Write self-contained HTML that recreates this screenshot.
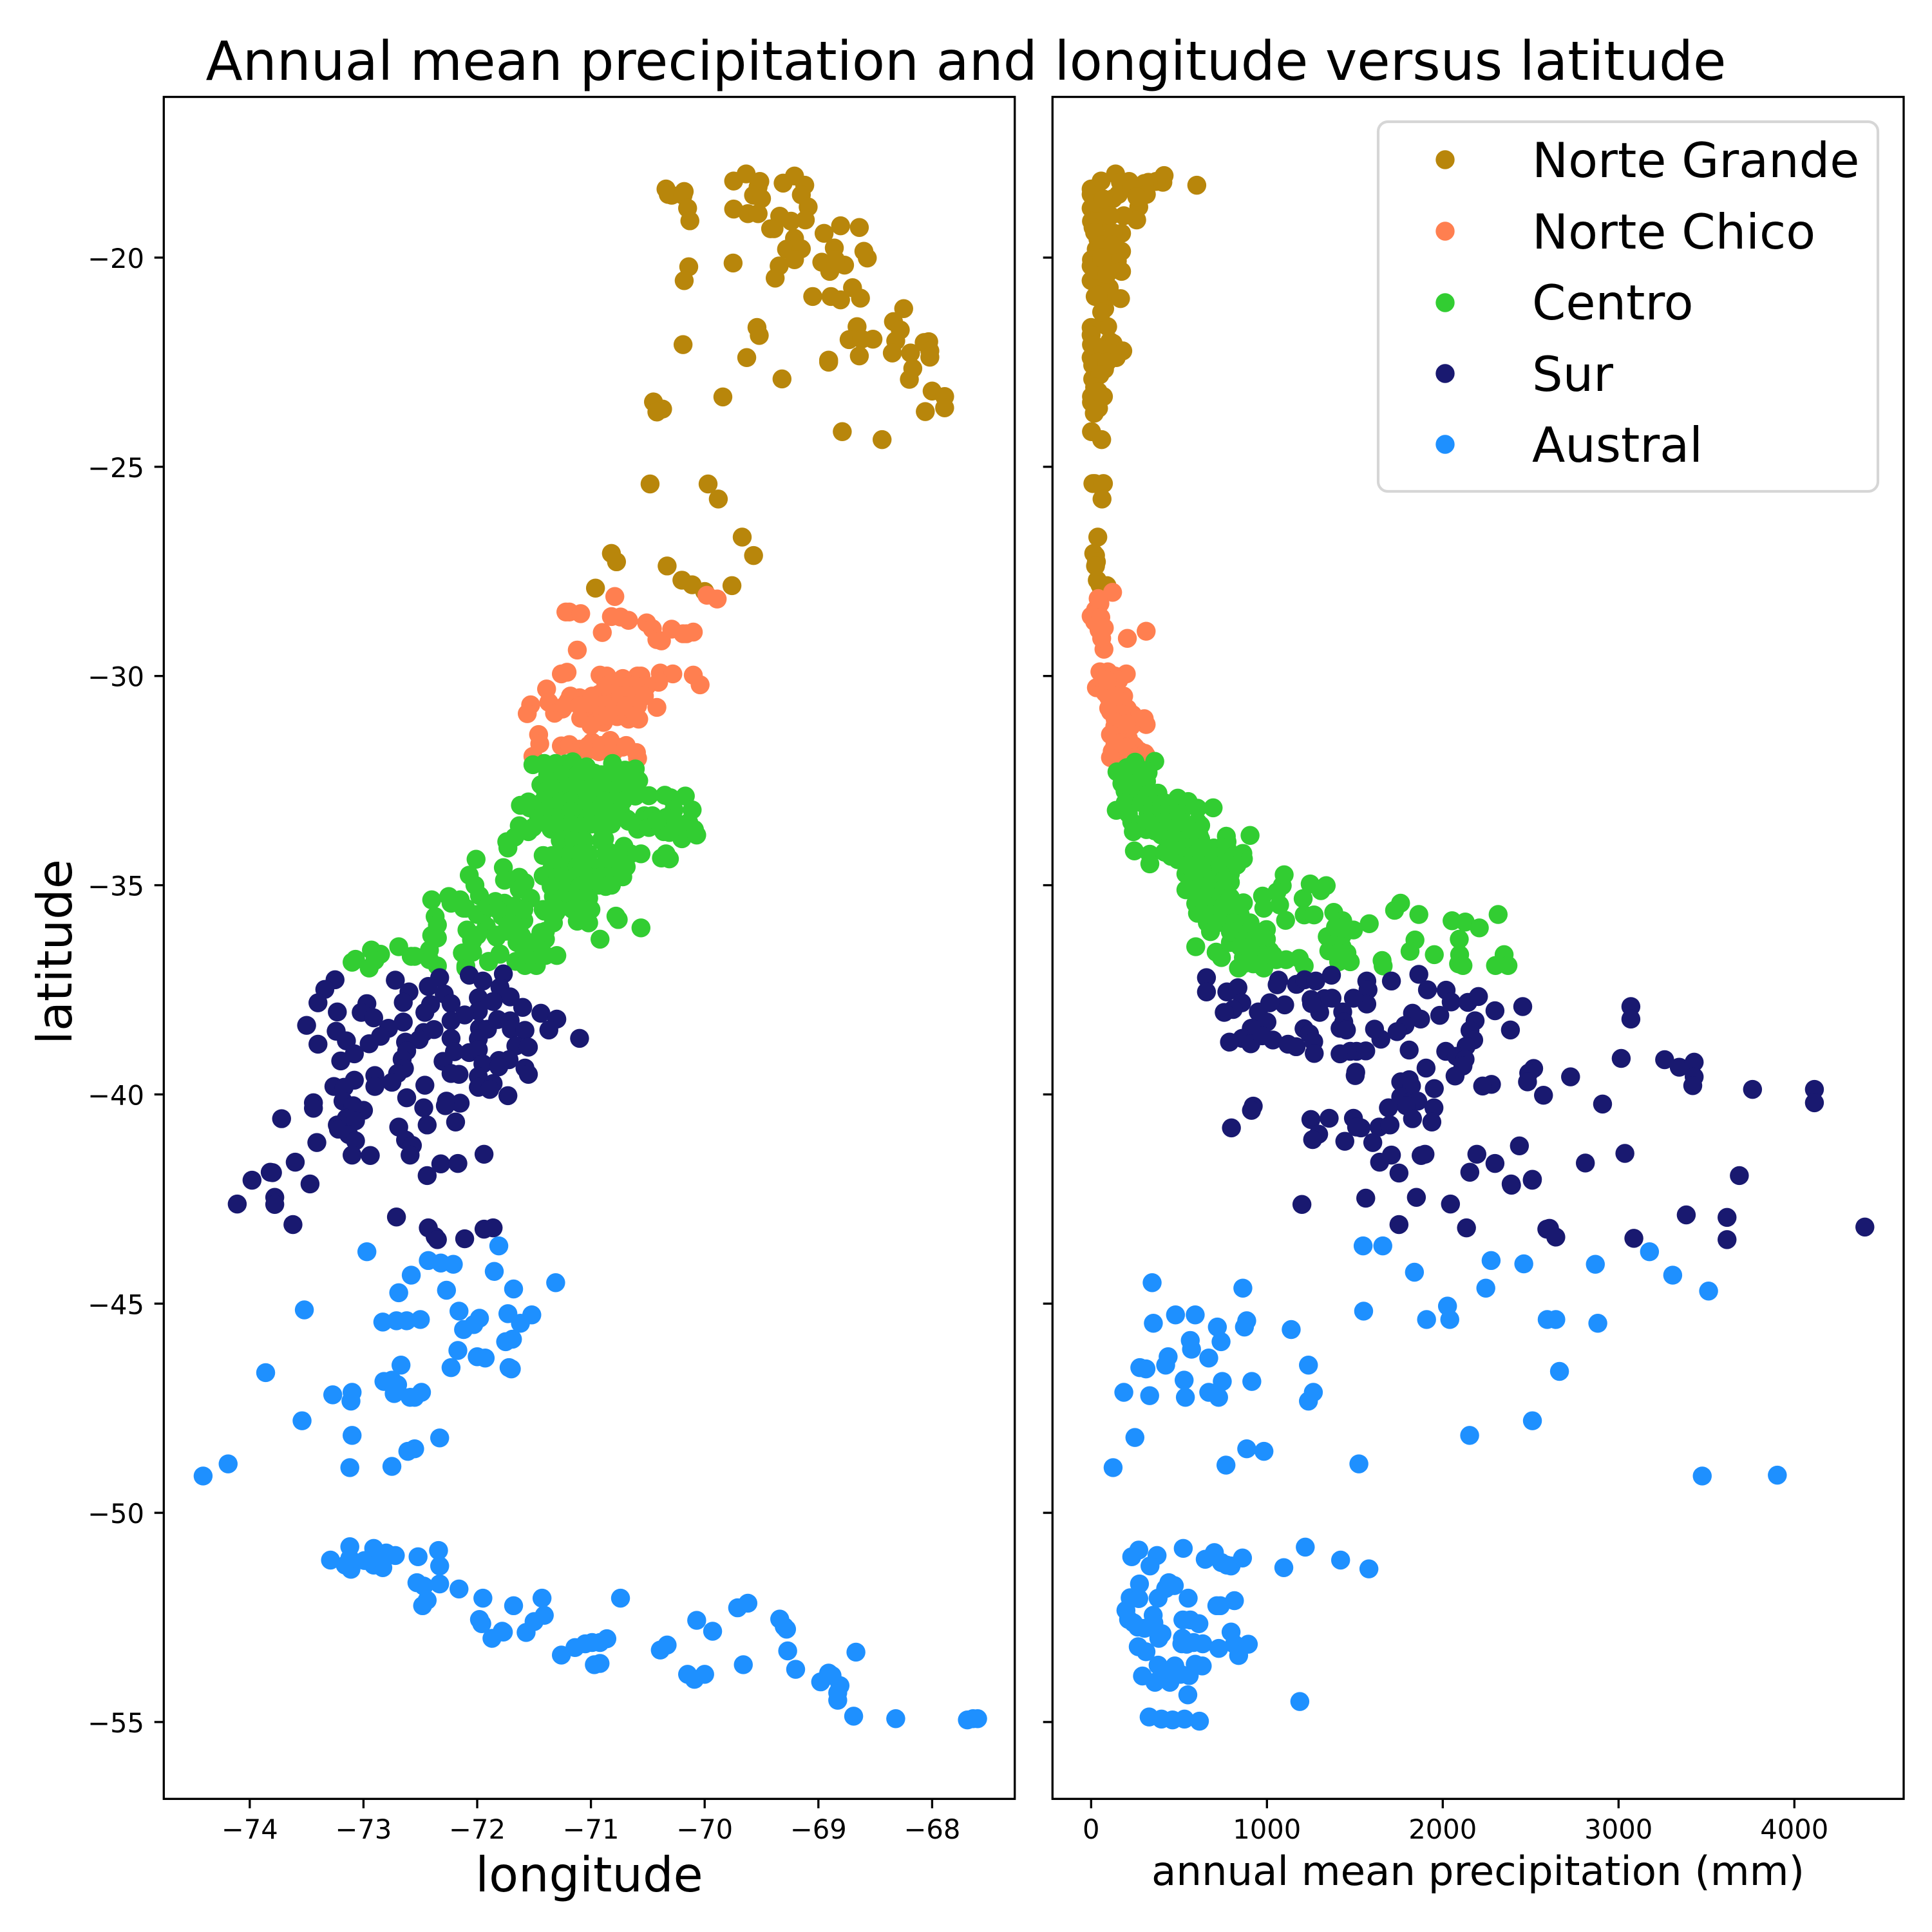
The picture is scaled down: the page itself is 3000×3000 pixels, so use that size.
<!DOCTYPE html>
<html lang="en">
<head>
<meta charset="utf-8">
<title>Annual mean precipitation and longitude versus latitude</title>
<style>
html,body{margin:0;padding:0;background:#fff;}
svg{display:block;}
text{font-family:"DejaVu Sans","Liberation Sans",sans-serif;fill:#000;}
</style>
</head>
<body>
<svg id="chart" xmlns="http://www.w3.org/2000/svg" width="3000" height="3000" viewBox="0 0 3000 3000">
  <rect x="0" y="0" width="3000" height="3000" fill="#ffffff"/>
  <text x="1500" y="124" font-size="83.6" text-anchor="middle">Annual mean precipitation and longitude versus latitude</text>
  <g id="left-marks"></g>
  <g id="right-marks"></g>
  <g id="ticks"></g>
  <rect x="254.3" y="150.5" width="1321.4" height="2642.8" fill="none" stroke="#000" stroke-width="3.33"/>
  <rect x="1634.3" y="150.5" width="1321.7" height="2642.8" fill="none" stroke="#000" stroke-width="3.33"/>
  <text x="915" y="2937" font-size="75" text-anchor="middle">longitude</text>
  <text x="2295" y="2927" font-size="62.5" text-anchor="middle">annual mean precipitation (mm)</text>
  <text transform="translate(111,1478) rotate(-90)" font-size="75" text-anchor="middle">latitude</text>
  <g>
    <rect x="2140" y="189" width="776" height="574" rx="15" ry="15" fill="#ffffff" fill-opacity="0.8" stroke="#cccccc" stroke-opacity="0.8" stroke-width="4.17"/>
    <g>
      <circle cx="2244" cy="248" r="14.7" fill="#b8860b"/>
      <text x="2379" y="275" font-size="75">Norte Grande</text>
    </g>
    <g>
      <circle cx="2244" cy="359" r="14.7" fill="#ff7f50"/>
      <text x="2379" y="386" font-size="75">Norte Chico</text>
    </g>
    <g>
      <circle cx="2244" cy="470" r="14.7" fill="#32cd32"/>
      <text x="2379" y="496" font-size="75">Centro</text>
    </g>
    <g>
      <circle cx="2244" cy="580" r="14.7" fill="#191970"/>
      <text x="2379" y="607" font-size="75">Sur</text>
    </g>
    <g>
      <circle cx="2244" cy="690" r="14.7" fill="#1e90ff"/>
      <text x="2379" y="717" font-size="75">Austral</text>
    </g>
  </g>
</svg>
<script>
const lonTicks = [-74, -73, -72, -71, -70, -69, -68];
const latTicks = [-20, -25, -30, -35, -40, -45, -50, -55];
const precipTicks = [0, 1000, 2000, 3000, 4000];

const norteGrandeLon = [
-70.34,-70.32,-70.29,-70.18,-70.19,-70.15,-70.13,-69.745,-69.635,-69.515,
-69.53,-69.57,-69.50,-69.745,-69.62,-69.53,-69.31,-69.21,-69.12,-69.15,
-69.09,-69.115,-69.34,-69.24,-69.39,-69.42,-68.95,-68.805,-68.64,-69.21,
-69.28,-69.15,-69.21,-69.345,-69.38,-68.86,-68.97,-68.77,-68.90,-68.85,
-68.6,-68.57,-70.14,-70.18,-69.75,-69.05,-68.89,-68.805,-68.70,-68.63,
-68.25,-68.34,-68.28,-68.32,-68.35,-68.19,-68.66,-68.73,-68.52,-68.62,
-68.64,-68.07,-68.03,-68.02,-68.02,-68.17,-68.2,-68.0,-67.89,-67.89,
-68.06,-69.54,-69.52,-70.19,-69.63,-68.91,-68.91,-69.32,-69.84,-70.45,
-70.37,-70.42,-68.79,-68.44,-70.48,-69.97,-69.88,-69.67,-69.57,-70.82,
-70.775,-70.33,-70.2,-70.11,-70.0,-69.76,-70.96];
const norteGrandeLonLat = [
-18.36,-18.49,-18.51,-18.42,-18.51,-18.82,-19.12,-18.17,-18.0,-18.18,
-18.31,-18.51,-18.59,-18.84,-18.95,-18.95,-18.22,-18.05,-18.27,-18.50,
-18.79,-19.10,-19.01,-19.13,-19.31,-19.31,-19.42,-19.24,-19.28,-19.54,
-19.80,-19.79,-20.05,-20.2,-20.49,-19.77,-20.11,-20.18,-20.33,-20.05,
-19.85,-20.01,-20.22,-20.55,-20.13,-20.93,-20.93,-21.01,-20.72,-20.97,
-21.22,-21.53,-21.73,-21.99,-22.28,-22.28,-21.65,-21.96,-21.95,-21.95,
-22.35,-22.03,-22.01,-22.23,-22.38,-22.65,-22.91,-23.19,-23.32,-23.59,
-23.68,-21.67,-21.86,-22.08,-22.39,-22.45,-22.5,-22.90,-23.33,-23.45,
-23.62,-23.69,-24.16,-24.35,-25.41,-25.41,-25.77,-26.68,-27.12,-27.07,
-27.27,-27.37,-27.71,-27.82,-27.98,-27.84,-27.9];

const norteChicoLon = [
-70.79,-69.98,-69.89,-71.22,-71.19,-71.09,-70.82,-70.74,-70.67,-70.51,
-70.46,-70.42,-70.38,-70.29,-70.19,-70.16,-70.10,-70.90,-71.12,-71.26,
-71.21,-70.92,-70.86,-70.72,-70.59,-70.56,-70.39,-70.28,-70.10,-70.04,
-70.405,-70.59,-70.51,-71.39,-71.37,-71.53,-71.56,-71.32,-71.25,-71.2,
-71.1,-71.06,-70.93,-70.85,-71.0,-70.78,-70.83,-70.42,-70.61,-71.09,
-71.0,-70.89,-70.77,-70.67,-70.58,-71.46,-71.45,-71.26,-71.19,-71.1,
-70.99,-70.83,-70.93,-70.72,-70.6,-70.59,-71.51,-70.8,-71.02,
-70.87,-70.74,-70.61,-71.18,-70.99,-70.74,-70.65,-70.53,
-71.23,-71.10,-70.91,-70.69,-70.59,-70.91,-70.85,-70.61,
-71.0,-71.02,-70.91,-70.80,-70.69];
const norteChicoLonLat = [
-28.10,-28.07,-28.16,-28.47,-28.47,-28.51,-28.58,-28.59,-28.67,-28.73,
-28.87,-29.13,-29.16,-28.88,-28.99,-28.99,-28.95,-28.96,-29.38,-29.95,
-29.91,-29.98,-30.0,-30.06,-30.0,-30.0,-29.93,-29.95,-29.98,-30.21,
-30.15,-30.4,-30.24,-30.31,-30.63,-30.69,-30.9,-30.89,-30.79,-30.6,
-30.52,-30.56,-30.44,-30.44,-30.71,-30.67,-30.79,-30.75,-30.79,-31.01,
-31.15,-31.11,-30.97,-31.03,-31.03,-31.4,-31.62,-31.67,-31.64,-31.75,
-31.58,-31.54,-31.81,-31.7,-31.83,-31.97,-31.92,-31.81,-31.77,
-30.24,-30.24,-30.24,-30.48,-30.48,-30.48,-30.48,-30.48,
-30.71,-30.71,-30.71,-30.71,-30.71,-30.95,-30.95,-30.95,
-31.18,-31.66,-31.66,-31.66,-31.66];

const centroLon = [
-71.51,-71.41,-71.31,-71.22,-71.16,-71.04,-70.81,-70.7,-70.61,-70.97,
-70.85,-71.44,-70.58,-71.27,-71.16,-71.02,-70.74,-71.4,-71.27,-71.16,
-71.0,-70.87,-70.76,-70.61,-70.49,-70.35,-70.3,-70.17,-71.62,-71.55,
-71.54,-71.35,-71.1,-70.93,-70.78,-70.11,-70.27,-71.46,-71.29,-71.06,
-70.8,-70.68,-70.53,-70.46,-70.34,-71.63,-71.55,-71.51,-71.35,-71.1,
-70.9,-70.82,-70.59,-70.49,-70.36,-70.14,-70.09,-70.2,-70.07,-70.31,
-71.67,-71.74,-71.73,-71.24,-71.1,-70.88,-70.71,-70.56,-70.34,-70.38,
-70.31,-70.65,-70.84,-71.23,-71.06,-71.42,-71.34,-72.01,-71.77,-71.21,
-71.02,-70.78,-70.70,-72.07,-71.76,-71.63,-71.42,-71.35,-71.58,-72.02,
-71.06,-70.93,-70.75,-71.29,-70.82,-71.63,-71.98,-71.53,-71.33,-71.06,
-70.93,-72.23,-72.1,-71.84,-71.76,-71.95,-71.23,-71.06,-71.41,-71.31,
-71.78,-71.69,-71.59,-71.12,-71.02,-70.78,-70.76,-70.56,-71.92,-71.84,
-71.69,-71.33,-71.40,-72.09,-72.04,-70.92,-71.65,-71.51,-71.40,-72.13,
-72.04,-71.8,-71.90,-72.10,-71.66,-71.58,-71.48,-71.40,-71.30,-71.53,
-73.10,-73.07,-72.93,-72.85,-72.95,-72.9,-72.69,-72.58,-72.42,-72.35,
-72.42,-72.35,-72.05,-72.13,-72.1,-71.83,-71.9,-71.8,-72.4,-72.25,
-72.37,-72.35,-72.4,-72.55,-72.12,-72.0,-72.0,-71.75,-71.9,-72.15,
-71.38,-71.25,-71.12,-71.0,-70.91,-70.78,-70.65,
-71.33,-71.21,-71.10,-70.99,-70.87,-70.76,-70.65,
-71.42,-71.25,-71.18,-71.03,-70.87,-70.72,
-71.40,-71.25,-71.18,-70.95,-70.85,-70.74,
-71.38,-71.27,-71.18,-71.0,-70.89,-70.67,-70.42,-70.23,
-71.27,-71.15,-71.06,-70.91,
-71.18,-71.10,-71.02,-70.87,-70.76,
-71.29,-71.12,-71.06,-70.91,-70.80,-70.69,
-71.29,-71.14,-71.02,-70.91,-70.84,-70.72,
-71.35,-71.21,-71.10,-71.0,-70.87,
-71.25,-71.14,-71.02,
-71.42,-71.29,-71.16,-71.06,-71.0,
-71.67,-71.59,-71.82,-71.48,-71.59,-71.44,-71.61];
const centroLonLat = [
-32.12,-32.09,-32.09,-32.1,-32.05,-32.17,-32.09,-32.25,-32.22,-32.32,
-32.36,-32.6,-32.5,-32.44,-32.52,-32.56,-32.56,-32.76,-32.83,-32.83,
-32.83,-32.83,-32.83,-32.87,-32.86,-32.85,-32.91,-32.87,-33.09,-33.01,
-33.15,-33.07,-33.07,-33.07,-33.07,-33.2,-33.2,-33.38,-33.38,-33.42,
-33.31,-33.42,-33.34,-33.34,-33.38,-33.58,-33.72,-33.62,-33.66,-33.58,
-33.66,-33.54,-33.66,-33.62,-33.72,-33.5,-33.67,-33.89,-33.8,-33.74,
-33.85,-33.96,-34.11,-33.89,-34.05,-33.89,-34.07,-34.25,-34.25,-34.35,
-34.37,-34.25,-34.21,-34.21,-34.29,-34.29,-34.29,-34.38,-34.58,-34.52,
-34.6,-34.48,-34.48,-34.76,-34.88,-34.81,-34.78,-34.64,-34.94,-35.0,
-34.88,-34.8,-34.76,-35.0,-35.0,-35.1,-35.25,-35.31,-35.27,-35.15,
-35.0,-35.43,-35.55,-35.39,-35.43,-35.65,-35.47,-35.43,-35.62,-35.66,
-35.74,-35.74,-35.84,-35.86,-35.9,-35.74,-35.82,-36.02,-35.98,-36.19,
-35.98,-35.9,-36.1,-36.07,-36.33,-36.29,-36.37,-36.37,-36.29,-36.62,
-36.6,-36.64,-36.82,-36.93,-36.82,-36.92,-36.92,-36.68,-36.68,-36.68,
-36.84,-36.77,-36.55,-36.65,-36.98,-36.8,-36.47,-36.7,-36.55,-36.26,
-36.78,-36.93,-36.31,-36.62,-36.98,-36.24,-36.83,-36.65,-35.35,-35.27,
-35.75,-35.95,-36.2,-36.7,-35.55,-35.7,-36.2,-36.1,-35.5,-35.35,
-32.36,-32.36,-32.36,-32.36,-32.36,-32.36,-32.36,
-32.68,-32.68,-32.68,-32.68,-32.68,-32.68,-32.68,
-32.99,-32.99,-32.99,-32.99,-32.99,-32.99,
-33.23,-33.23,-33.23,-33.23,-33.23,-33.23,
-33.54,-33.54,-33.54,-33.54,-33.54,-33.47,-33.46,-33.54,
-33.93,-33.93,-33.93,-33.93,
-34.25,-34.25,-34.25,-34.25,-34.25,
-34.56,-34.56,-34.56,-34.56,-34.56,-34.56,
-34.8,-34.8,-34.8,-34.8,-34.8,-34.8,
-35.03,-35.03,-35.03,-35.03,-35.03,
-35.31,-35.31,-35.31,
-35.58,-35.58,-35.58,-35.58,-35.58,
-35.5,-35.58,-35.58,-36.37,-36.53,-36.13,-36.21];

const surLon = [
-73.25,-73.34,-73.40,-73.23,-73.50,-73.40,-73.24,-73.15,-73.08,-73.2,
-72.97,-73.02,-72.91,-72.72,-72.6,-72.65,-72.65,-72.78,-72.85,-72.95,
-72.33,-72.43,-72.29,-72.23,-72.41,-72.46,-72.07,-71.95,-71.77,-71.8,
-71.71,-71.99,-71.86,-71.6,-71.99,-72.11,-72.23,-71.44,-71.3,-71.37,
-71.1,-72.38,-72.47,-72.51,-72.63,-72.62,-72.66,-72.64,-72.70,-72.75,
-72.23,-71.98,-71.91,-71.82,-71.71,-71.7,-71.58,-71.99,-72.2,-72.07,
-71.99,-71.66,-71.55,-72.3,-72.23,-72.16,-71.95,-71.81,-71.72,-71.81,
-71.58,-71.55,-71.99,-71.86,-71.99,-71.89,-71.73,-72.9,-73.08,-73.26,
-73.17,-72.9,-72.46,-72.62,-72.47,-72.27,-72.15,-72.28,-72.44,-72.19,
-73.18,-73.09,-73.0,-73.44,-73.44,-73.72,-73.15,-73.07,-73.23,-73.22,
-73.13,-73.07,-73.41,-73.1,-72.94,-72.69,-72.63,-72.57,-72.59,-71.94,
-72.32,-72.17,-72.44,-73.6,-73.82,-73.8,-73.98,-73.47,-73.78,-73.78,
-74.11,-73.62,-72.71,-72.43,-72.37,-72.35,-72.11,-71.94,-71.86];
const surLonLat = [
-37.26,-37.49,-37.81,-38.03,-38.35,-38.80,-38.49,-38.72,-39.03,-39.2,
-37.83,-38.04,-38.17,-37.27,-37.55,-37.8,-38.27,-38.42,-38.61,-38.79,
-37.21,-37.42,-37.6,-37.83,-37.85,-38.04,-37.15,-37.29,-37.12,-37.44,
-37.67,-37.69,-37.78,-37.92,-38.01,-38.1,-38.24,-38.06,-38.2,-38.46,
-38.66,-38.45,-38.52,-38.69,-38.75,-38.96,-39.16,-39.38,-39.5,-39.71,
-38.66,-38.42,-38.44,-38.21,-38.24,-38.44,-38.47,-38.67,-38.98,-39.0,
-38.93,-38.84,-38.87,-39.21,-39.5,-39.52,-39.27,-39.19,-39.17,-39.34,
-39.37,-39.52,-39.57,-39.74,-39.83,-39.88,-40.03,-39.55,-39.66,-39.81,
-39.83,-39.81,-39.78,-40.08,-40.32,-40.16,-40.21,-40.27,-40.73,-40.66,
-40.16,-40.27,-40.38,-40.2,-40.33,-40.58,-40.57,-40.63,-40.73,-40.83,
-40.96,-41.11,-41.15,-41.45,-41.46,-40.78,-41.09,-41.22,-41.45,-41.43,
-41.66,-41.65,-41.94,-41.62,-41.86,-41.87,-42.05,-42.14,-42.46,-42.63,
-42.62,-43.11,-42.93,-43.19,-43.4,-43.47,-43.45,-43.22,-43.19];

const australLon = [
-71.81,-72.97,-72.43,-72.32,-72.21,-72.58,-71.85,-71.31,-72.27,-72.69,
-71.68,-73.52,-72.16,-71.73,-71.52,-71.62,-71.98,-72.03,-72.12,-72.83,
-72.71,-72.62,-72.5,-71.69,-71.75,-72.17,-72.0,-71.93,-71.7,-71.72,
-72.23,-72.67,-73.86,-72.82,-72.75,-72.7,-72.73,-72.59,-72.55,-72.49,
-73.1,-73.27,-73.11,-73.54,-73.1,-72.33,-72.55,-72.61,-73.12,-72.75,
-74.19,-74.41,-73.29,-73.12,-73.16,-73.11,-73.12,-72.99,-72.91,-72.91,
-72.83,-72.8,-72.72,-72.85,-72.52,-72.34,-72.33,-72.33,-72.53,-72.47,
-72.16,-72.44,-72.48,-71.95,-71.98,-71.96,-71.87,-71.77,-71.68,-71.43,
-71.41,-71.5,-71.57,-71.78,-70.74,-71.26,-71.14,-71.05,-70.99,-70.92,
-70.86,-70.97,-70.92,-70.39,-70.33,-70.07,-69.93,-69.71,-69.62,-70.15,
-70.09,-70.0,-69.66,-69.34,-69.3,-69.28,-69.27,-69.2,-68.98,-68.91,
-68.88,-68.81,-68.83,-68.83,-68.67,-68.69,-68.32,-67.69,-67.64,-67.6];
const australLonLat = [
-43.62,-43.76,-43.97,-44.03,-44.06,-44.32,-44.23,-44.5,-44.68,-44.74,
-44.65,-45.15,-45.18,-45.24,-45.27,-45.47,-45.35,-45.5,-45.62,-45.44,
-45.41,-45.41,-45.38,-45.85,-45.91,-46.12,-46.27,-46.3,-46.56,-46.53,
-46.53,-46.47,-46.65,-46.86,-46.83,-46.94,-47.15,-47.24,-47.24,-47.12,
-47.12,-47.18,-47.33,-47.8,-48.15,-48.21,-48.47,-48.53,-48.92,-48.89,
-48.83,-49.12,-51.13,-50.81,-51.25,-51.35,-51.09,-51.14,-50.85,-51.25,
-51.31,-50.96,-51.02,-51.09,-51.05,-50.9,-51.27,-51.7,-51.67,-51.75,
-51.82,-52.09,-52.22,-52.04,-52.55,-52.65,-53.0,-52.85,-52.22,-52.04,
-52.45,-52.6,-52.86,-52.83,-52.04,-53.4,-53.22,-53.13,-53.1,-53.1,
-53.01,-53.63,-53.6,-53.28,-53.16,-52.57,-52.83,-52.27,-52.16,-53.86,
-53.98,-53.86,-53.63,-52.54,-52.72,-52.78,-53.3,-53.74,-54.04,-53.83,
-53.89,-54.13,-54.3,-54.48,-53.33,-54.86,-54.92,-54.95,-54.92,-54.92];

const norteGrandePrecip = [
601,415,408,369,326,302,216,139,57,167,
125,155,0,0,314,271,259,186,0,2,
51,82,11,173,125,39,29,173,94,106,
149,2,173,0,63,0,33,103,23,82,
167,77,64,94,0,0,106,125,180,143,
2,0,9,76,9,21,70,2,2,42,
18,2,60,21,10,70,62,38,15,25,
30,25,35,50,60,70,90,
30,70,110,20,60,30,60,90,120,40,
60,20,70,120,40,90,50,20,40,230,260];
const norteGrandePrecipLat = [
-18.27,-18.04,-18.2,-18.18,-18.2,-18.23,-18.18,-18.0,-18.17,-18.2,
-18.59,-18.49,-18.36,-18.49,-18.49,-18.79,-19.1,-19.0,-18.82,-19.13,
-18.9,-19.13,-19.28,-19.42,-19.41,-19.56,-19.8,-19.85,-19.8,-20.05,
-20.08,-20.05,-20.33,-20.2,-20.18,-20.55,-20.5,-20.72,-20.93,-20.93,
-20.98,-21.22,-21.59,-21.65,-21.67,-21.85,-22.0,-22.05,-22.23,-22.39,
-22.08,-22.39,-22.57,-22.67,-22.9,-22.92,-23.32,-23.32,-23.46,-23.6,
-23.72,-24.16,-24.35,-25.4,-25.4,-25.4,-25.77,-26.68,-27.07,-27.12,
-27.27,-27.37,-27.71,-27.82,-27.98,-27.9,-27.84,
-18.7,-18.6,-19.0,-19.4,-19.7,-20.3,-20.0,-20.4,-19.7,-20.9,
-21.3,-22.1,-22.2,-22.3,-22.5,-22.5,-22.8,-23.1,-23.2,-18.35,-18.55];

const norteChicoPrecip = [
122,0,25,50,20,45,313,206,73,50,
95,135,200,30,80,157,185,100,135,206,
235,277,313,135,185,227,157,241,135,185,
120,227,135,185,313,277,302,137,156,137,
212,250,306,134,137,100,
80,120,160,110,170,140,200,110,170,110,
200,250,90,40,55,75,60];
const norteChicoPrecipLat = [
-28.0,-28.57,-28.42,-28.27,-28.7,-28.9,-28.93,-29.1,-29.36,-29.9,
-29.9,-30.0,-29.95,-30.28,-30.2,-30.1,-30.48,-30.51,-30.69,-30.78,
-30.92,-31.04,-31.16,-31.2,-31.28,-31.2,-31.45,-31.66,-31.66,-31.8,
-31.8,-31.95,-31.95,-32.05,-31.9,-31.8,-31.02,-31.04,-31.34,-31.54,
-31.49,-31.7,-31.85,-31.8,-31.98,-30.77,
-30.4,-30.45,-30.6,-30.85,-30.9,-31.1,-31.15,-31.4,-31.6,-31.95,
-31.7,-31.95,-30.1,-28.15,-28.6,-28.85,-29.1];

const centroPrecip = [
362,250,203,147,306,315,193,380,493,552,
694,605,143,268,380,455,231,240,315,399,
436,623,614,511,549,769,904,698,773,246,
334,334,418,493,567,623,586,863,866,754,
539,679,792,792,539,642,1098,1087,1057,975,
982,1072,1106,1206,1246,1307,1337,1212,1268,1380,
1431,1492,1582,1343,1427,1352,1455,1474,1408,1760,
1726,1864,2053,2128,2208,2315,2094,1842,1814,1952,
2096,2090,2115,1655,1661,2349,2300,2371,595,711,
741,838,866,754,595,605,661,679,792,792,
810,904,997,922,997,904,1016,866,982,960,
1109,1184,1212,1053,866,736,717,
175,250,324,175,250,250,324,194,287,418,
212,324,418,511,324,418,511,605,362,455,
567,455,549,623,455,549,623,773,455,549,
698,810,549,623,736,829,586,736,586,698,
754,605,679,754,605,679,792,661,754,829,
642,717,848,717,810,792,904,866,960,848,
941,885,978,1035,866,922,1390,1371,1427,1408];
const centroPrecipLat = [
-32.04,-32.06,-32.19,-32.29,-32.26,-32.52,-32.75,-32.8,-32.92,-33.0,
-33.15,-33.16,-33.21,-32.98,-33.08,-33.19,-33.49,-33.72,-33.67,-33.8,
-33.44,-33.57,-33.8,-33.8,-33.6,-33.83,-33.81,-34.11,-33.96,-34.18,
-34.26,-34.49,-34.21,-34.39,-34.16,-34.31,-34.47,-34.24,-34.37,-34.37,
-34.73,-34.73,-34.73,-34.93,-35.11,-34.93,-34.75,-35.01,-35.16,-35.26,
-35.55,-35.47,-35.84,-35.32,-34.97,-35.13,-35.01,-35.71,-35.71,-35.65,
-35.85,-36.07,-35.92,-36.23,-36.21,-36.57,-36.62,-36.83,-36.83,-35.43,
-35.6,-35.7,-35.85,-35.88,-36.02,-35.7,-36.29,-36.31,-36.58,-36.66,
-36.66,-36.88,-36.92,-36.8,-36.93,-36.66,-36.92,-36.92,-36.47,-36.6,
-36.73,-36.98,-35.42,-35.24,-35.44,-35.67,-35.9,-36.11,-36.37,-36.11,
-35.65,-35.9,-36.06,-36.21,-36.29,-36.57,-36.57,-36.73,-36.98,-36.78,
-36.78,-36.75,-36.93,-36.78,-35.96,-35.65,-35.39,
-32.31,-32.31,-32.31,-32.57,-32.57,-32.83,-32.83,-33.03,-33.03,-33.03,
-33.29,-33.29,-33.29,-33.29,-33.49,-33.49,-33.49,-33.49,-33.7,-33.7,
-33.7,-33.9,-33.9,-33.9,-34.11,-34.11,-34.11,-34.11,-34.31,-34.31,
-34.31,-34.31,-34.52,-34.52,-34.52,-34.52,-34.73,-34.73,-34.88,-34.88,
-34.88,-35.08,-35.08,-35.08,-35.29,-35.29,-35.29,-35.49,-35.49,-35.49,
-35.7,-35.7,-35.7,-35.9,-35.9,-36.11,-36.11,-36.32,-36.32,-36.47,
-36.47,-36.67,-36.67,-36.67,-36.88,-36.88,-36.0,-36.42,-36.47,-36.62];

const surPrecip = [
656,656,772,835,857,808,757,1066,1058,1168,
1214,1278,1367,1568,1575,1708,1864,1913,2019,2048,
2143,2203,2297,2455,2385,1983,1874,1828,1785,1740,
2184,2155,2176,2133,2017,2078,2127,2115,2070,1905,
1809,1648,1612,1568,1492,1431,1437,1416,1452,1370,
1327,1251,1300,1254,1101,1016,951,1000,911,859,
787,908,973,1034,1120,1166,1211,1242,1266,1269,
1416,1474,1510,1562,1505,1502,1761,1809,1822,1952,
1761,1822,1858,1791,1691,1950,1828,1938,922,912,
798,1250,1354,1294,1260,1492,1535,1510,1638,1700,
1602,1443,1708,1641,1751,1877,1899,2194,2297,2154,
2436,2389,2509,1562,1850,2044,1199,1751,2135,2592,
2517,2489,2482,2573,2727,2909,3015,3262,3345,3430,
3430,3422,3070,3070,3762,4114,4114,4401,3036,2811,
3687,3617,3617,3385,3087,2607,2643,2510,2391,2277,
2227];
const surPrecipLat = [
-37.21,-37.55,-37.55,-37.45,-37.81,-37.97,-38.04,-37.27,-37.38,-37.37,
-37.26,-37.29,-37.15,-37.29,-37.5,-37.29,-37.13,-37.5,-37.51,-37.79,
-37.8,-37.66,-38.0,-37.9,-38.46,-38.11,-38.2,-38.06,-38.35,-38.5,
-38.24,-38.47,-38.7,-38.85,-38.97,-39.09,-39.16,-39.32,-39.56,-39.37,
-38.94,-38.68,-38.44,-37.84,-37.7,-38.03,-38.27,-38.42,-38.46,-37.7,
-37.71,-37.73,-38.04,-37.83,-37.86,-37.81,-38.03,-38.27,-38.42,-38.66,
-38.75,-38.79,-38.6,-38.7,-38.8,-38.86,-38.43,-38.55,-38.74,-39.02,
-39.03,-38.97,-38.97,-38.96,-39.47,-39.55,-39.7,-39.65,-39.8,-39.86,
-40.06,-40.16,-40.16,-40.27,-40.32,-40.32,-40.58,-40.66,-40.28,-40.38,
-40.8,-40.6,-40.57,-40.95,-41.08,-40.57,-40.8,-40.78,-40.78,-40.73,
-41.15,-41.12,-41.45,-41.62,-41.88,-41.46,-41.43,-41.43,-41.65,-41.86,
-41.23,-42.14,-42.05,-42.48,-42.46,-42.62,-42.63,-43.11,-43.19,-43.22,
-39.38,-39.49,-39.7,-40.02,-39.58,-40.23,-39.14,-39.17,-39.35,-39.23,
-39.58,-39.79,-37.9,-38.2,-39.88,-39.88,-40.2,-43.17,-41.41,-41.64,
-41.94,-42.94,-43.47,-42.88,-43.44,-43.2,-43.41,-42.03,-42.17,-39.76,
-39.8];

const australPrecip = [
1547,1659,2275,2461,1839,2245,863,2868,3176,3308,
3512,1550,347,2027,2040,1908,2594,2643,2882,2664,
2510,2153,1523,3476,3903,125,249,186,333,277,
312,438,424,480,354,592,564,571,669,739,
718,885,872,1138,1236,1264,1236,914,746,529,
536,669,725,885,983,767,271,231,375,335,
524,649,701,741,796,861,772,1096,1218,1419,
1580,275,442,473,424,381,552,222,271,198,
353,213,265,304,241,357,403,385,715,735,
815,522,564,613,796,519,516,544,583,635,
726,815,894,839,268,312,381,292,363,448,
476,592,632,418,558,509,550,1187,330,400,
463,531,616];
const australPrecipLat = [
-43.62,-43.62,-43.97,-44.05,-44.25,-44.63,-44.63,-44.06,-43.76,-44.32,
-44.7,-45.18,-44.5,-45.06,-45.38,-45.38,-45.38,-45.38,-45.47,-46.62,
-47.8,-48.15,-48.83,-49.12,-49.1,-48.92,-48.2,-47.12,-47.2,-46.53,
-46.56,-46.27,-46.47,-45.27,-45.47,-45.27,-45.88,-46.09,-46.3,-45.91,
-45.56,-45.41,-45.56,-45.62,-46.47,-47.12,-47.33,-46.86,-46.86,-46.83,
-47.24,-47.12,-47.24,-48.47,-48.53,-48.86,-50.89,-51.05,-51.02,-51.27,
-50.85,-51.11,-50.95,-51.19,-51.27,-51.08,-51.25,-51.31,-50.82,-51.13,
-51.34,-51.7,-51.67,-51.74,-51.81,-52.04,-52.04,-52.03,-52.05,-52.33,
-52.45,-52.55,-52.73,-52.76,-52.63,-52.63,-52.89,-53.0,-52.22,-52.22,
-52.1,-52.56,-52.56,-52.65,-52.85,-53.0,-53.13,-53.14,-53.1,-53.13,
-53.24,-53.14,-53.14,-53.41,-53.2,-53.32,-53.64,-53.9,-54.05,-54.05,
-53.66,-53.62,-53.66,-53.86,-53.89,-53.86,-54.35,-54.51,-54.88,-54.93,
-54.95,-54.93,-54.98];

const SVG_NS = 'http://www.w3.org/2000/svg';
const MARKER_RADIUS = 14.73;
const TICK_LENGTH = 14.6;

function xLon(v) { return 387.8 + (v + 74) * 176.6; }
function xPrecip(v) { return 1694.3 + v * 0.273; }
function yLat(v) { return 400 + (-20 - v) * 64.97; }

function drawPoints(parent, xs, ys, scaleX, color, name) {
  const count = Math.min(xs.length, ys.length);
  for (let i = 0; i < count; i++) {
    const c = document.createElementNS(SVG_NS, 'circle');
    c.setAttribute('cx', scaleX(xs[i]).toFixed(2));
    c.setAttribute('cy', yLat(ys[i]).toFixed(2));
    c.setAttribute('r', MARKER_RADIUS);
    c.setAttribute('fill', color);
    
    
    parent.appendChild(c);
  }
}

function drawLine(parent, x1, y1, x2, y2, name) {
  const l = document.createElementNS(SVG_NS, 'line');
  l.setAttribute('x1', x1);
  l.setAttribute('y1', y1);
  l.setAttribute('x2', x2);
  l.setAttribute('y2', y2);
  l.setAttribute('stroke', '#000');
  l.setAttribute('stroke-width', '3.33');
  
  
  parent.appendChild(l);
}

function drawLabel(parent, x, y, anchor, str, name) {
  const t = document.createElementNS(SVG_NS, 'text');
  t.setAttribute('x', x);
  t.setAttribute('y', y);
  t.setAttribute('font-size', '41.67');
  t.setAttribute('text-anchor', anchor);
  
  
  t.textContent = str;
  parent.appendChild(t);
}

function tickText(v) { return v < 0 ? '\u2212' + Math.abs(v) : String(v); }

const leftMarks = document.getElementById('left-marks');
const rightMarks = document.getElementById('right-marks');
const tickLayer = document.getElementById('ticks');

drawPoints(leftMarks, norteGrandeLon, norteGrandeLonLat, xLon, '#b8860b', 'point-norte-grande');
drawPoints(leftMarks, norteChicoLon, norteChicoLonLat, xLon, '#ff7f50', 'point-norte-chico');
drawPoints(leftMarks, centroLon, centroLonLat, xLon, '#32cd32', 'point-centro');
drawPoints(leftMarks, surLon, surLonLat, xLon, '#191970', 'point-sur');
drawPoints(leftMarks, australLon, australLonLat, xLon, '#1e90ff', 'point-austral');

drawPoints(rightMarks, norteGrandePrecip, norteGrandePrecipLat, xPrecip, '#b8860b', 'point-norte-grande');
drawPoints(rightMarks, norteChicoPrecip, norteChicoPrecipLat, xPrecip, '#ff7f50', 'point-norte-chico');
drawPoints(rightMarks, centroPrecip, centroPrecipLat, xPrecip, '#32cd32', 'point-centro');
drawPoints(rightMarks, surPrecip, surPrecipLat, xPrecip, '#191970', 'point-sur');
drawPoints(rightMarks, australPrecip, australPrecipLat, xPrecip, '#1e90ff', 'point-austral');

lonTicks.forEach(function (v) {
  drawLine(tickLayer, xLon(v), 2793.3, xLon(v), 2793.3 + TICK_LENGTH, 'longitude-tick');
  drawLabel(tickLayer, xLon(v), 2855, 'middle', tickText(v), 'longitude-tick-label');
});
precipTicks.forEach(function (v) {
  drawLine(tickLayer, xPrecip(v), 2793.3, xPrecip(v), 2793.3 + TICK_LENGTH, 'precipitation-tick');
  drawLabel(tickLayer, xPrecip(v), 2855, 'middle', tickText(v), 'precipitation-tick-label');
});
latTicks.forEach(function (v) {
  drawLine(tickLayer, 254.3, yLat(v), 254.3 - TICK_LENGTH, yLat(v), 'latitude-tick');
  drawLine(tickLayer, 1634.3, yLat(v), 1634.3 - TICK_LENGTH, yLat(v), 'right-panel-latitude-tick');
  drawLabel(tickLayer, 224, yLat(v) + 16, 'end', tickText(v), 'latitude-tick-label');
});
</script>
</body>
</html>
